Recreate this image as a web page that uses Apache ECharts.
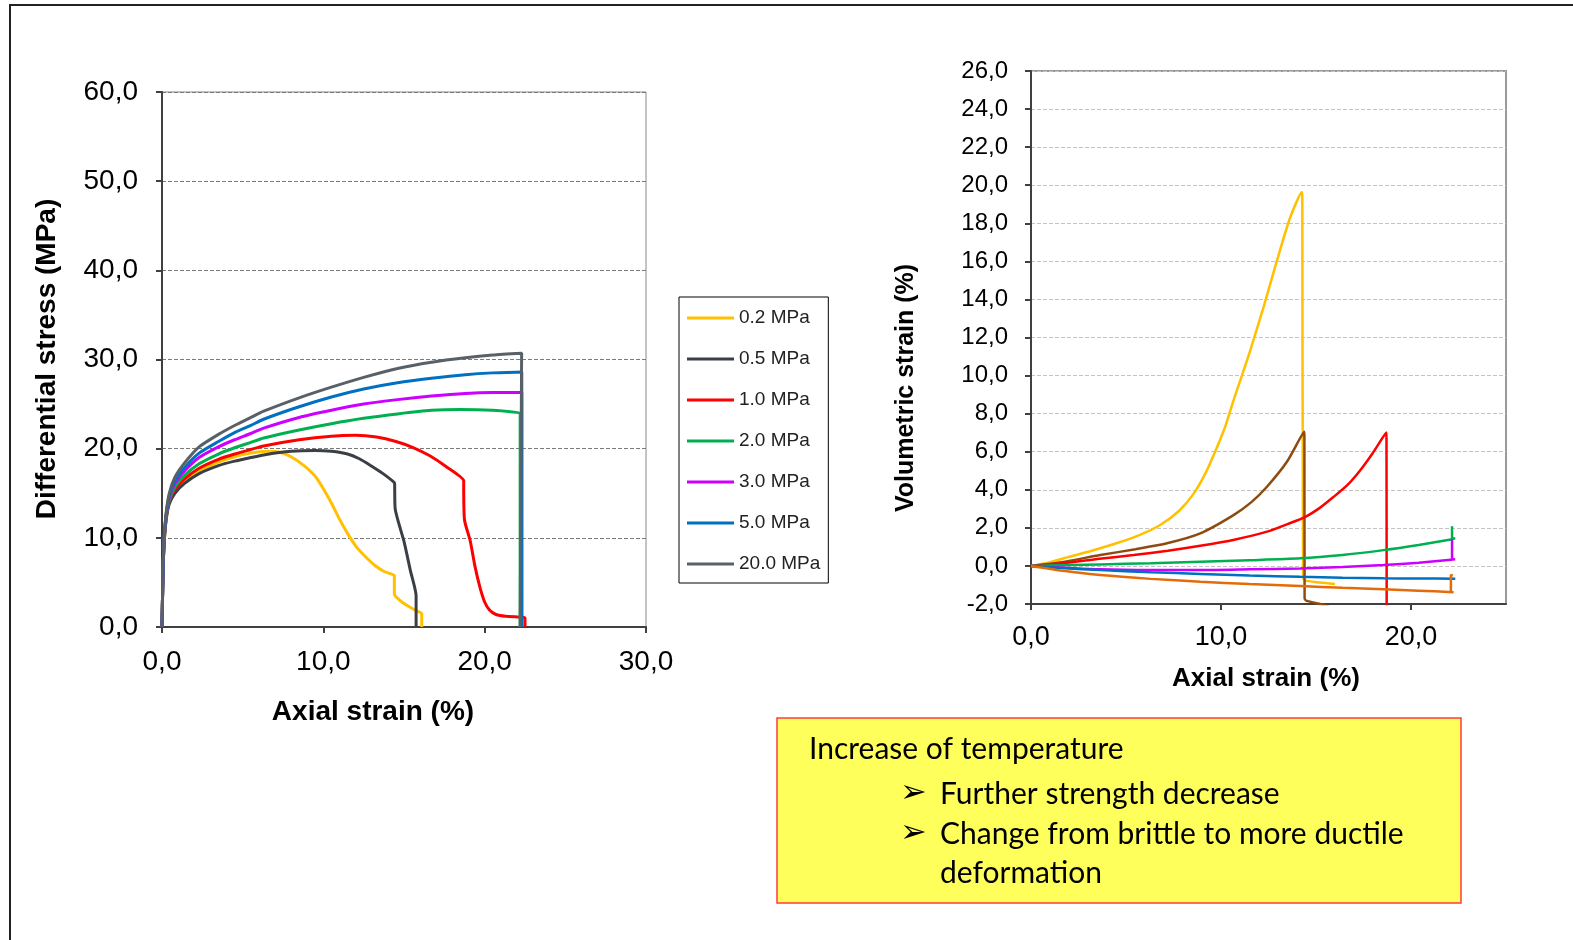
<!DOCTYPE html>
<html lang="en">
<head>
    <meta charset="UTF-8">
    <title>Axial strain</title>
    <script src="https://cdn.jsdelivr.net/npm/echarts@6/dist/echarts.min.js"></script>
</head>
<body>
<div id="main"></div>
</body>

<style type="text/css" media="screen">
    html, body {
        width: 100%;
        height: 100%;
        overflow: hidden;
        margin: 0;
        background: #fff;
    }

    #main {
        width: 1573px;
        height: 940px;
    }
</style>
<script>
    // confining pressure labels (left legend)
    var pressures = ['0.2 MPa', '0.5 MPa', '1.0 MPa', '2.0 MPa', '3.0 MPa', '5.0 MPa', '20.0 MPa'];

    // differential stress vs axial strain, [strain %, stress MPa]
    var stress02 = [[0, 0], [0.05, 5], [0.12, 9], [0.25, 12], [0.45, 14], [0.8, 15.3], [1.4, 16.4], [2.3, 17.5], [3.5, 18.5], [4.5, 19.1], [5.5, 19.5], [6.5, 19.7], [7.3, 19.6], [8, 19.1], [8.8, 18.1], [9.5, 16.9], [10, 15.5], [10.5, 13.9], [11, 12.1], [11.5, 10.5], [12, 9.1], [12.6, 7.9], [13.2, 6.9], [13.8, 6.2], [14.4, 5.8], [14.4, 5.6], [14.4, 3.7], [14.8, 2.9], [15.3, 2.3], [15.8, 1.8], [16.1, 1.5], [16.1, 1.3], [16.1, 0]];
    var stress05 = [[0, 0], [0.05, 5], [0.12, 9], [0.25, 11.9], [0.45, 13.8], [0.8, 15.0], [1.4, 16.1], [2.3, 17.2], [3.5, 18.1], [4.5, 18.6], [5.5, 19.0], [6.3, 19.3], [8, 19.7], [9.5, 19.8], [10.5, 19.7], [11.5, 19.4], [12.2, 18.9], [12.9, 18.15], [13.7, 17.2], [14.4, 16.2], [14.42, 16.0], [14.45, 13.3], [15.0, 9.6], [15.4, 6.3], [15.75, 3.5], [15.75, 3.3], [15.75, 0]];
    var stress1 = [[0, 0], [0.05, 5], [0.12, 9], [0.25, 12.1], [0.45, 14.1], [0.8, 15.4], [1.4, 16.6], [2.3, 17.8], [3.5, 18.8], [4.5, 19.4], [5.5, 19.9], [6.3, 20.3], [8.5, 21.0], [10.5, 21.4], [12, 21.5], [13.3, 21.3], [14.5, 20.8], [15.6, 20.1], [16.6, 19.2], [17.6, 18.0], [18.7, 16.4], [18.7, 16.2], [18.75, 12.0], [19.1, 9.7], [19.4, 6.8], [19.7, 4.5], [20.0, 2.8], [20.3, 1.9], [20.7, 1.4], [21.3, 1.2], [22.4, 1.1], [22.5, 1.0], [22.5, 0]];
    var stress2 = [[0, 0], [0.05, 5], [0.12, 9.1], [0.25, 12.2], [0.45, 14.2], [0.8, 15.7], [1.4, 17.0], [2.3, 18.3], [3.5, 19.4], [4.5, 20.1], [5.5, 20.7], [6.3, 21.2], [8.5, 22.1], [10.5, 22.8], [12.5, 23.4], [14.6, 23.9], [16.7, 24.3], [18.5, 24.4], [20.5, 24.3], [22.2, 24.0], [22.2, 23.7], [22.2, 0]];
    var stress3 = [[0, 0], [0.05, 5], [0.12, 9.3], [0.25, 12.4], [0.45, 14.5], [0.8, 16.1], [1.4, 17.5], [2.3, 19.0], [3.5, 20.2], [4.5, 21.0], [5.5, 21.7], [6.3, 22.3], [8.5, 23.5], [10.5, 24.3], [12.5, 25.0], [14.6, 25.5], [16.7, 25.9], [18.8, 26.2], [20.5, 26.3], [22.3, 26.3], [22.3, 26.0], [22.3, 0]];
    var stress5 = [[0, 0], [0.05, 5], [0.12, 9.4], [0.25, 12.5], [0.45, 14.7], [0.8, 16.4], [1.4, 17.9], [2.3, 19.5], [3.5, 20.8], [4.5, 21.8], [5.5, 22.6], [6.3, 23.3], [8.5, 24.7], [10.5, 25.8], [12.5, 26.7], [14.6, 27.4], [16.7, 27.9], [18.8, 28.3], [20.5, 28.5], [22.3, 28.6], [22.3, 28.3], [22.3, 0]];
    var stress20 = [[0, 0], [0.05, 5], [0.12, 9.6], [0.25, 12.7], [0.45, 15.0], [0.8, 16.8], [1.4, 18.4], [2.3, 20.2], [3.5, 21.6], [4.5, 22.6], [5.5, 23.5], [6.3, 24.2], [8.5, 25.7], [10.5, 26.9], [12.5, 28.0], [14.6, 29.0], [16.7, 29.7], [18.8, 30.2], [20.5, 30.5], [22.3, 30.7], [22.29, 30.4], [22.2, 0]];

    // volumetric strain vs axial strain, [strain %, volumetric %]
    var vol02 = [[0, 0], [1, 0.2], [1.9, 0.45], [3.2, 0.8], [4.5, 1.19], [5.7, 1.62], [6.8, 2.15], [7.8, 2.9], [8.56, 3.8], [9.2, 4.9], [9.8, 6.26], [10.25, 7.4], [10.66, 8.7], [11.1, 10.0], [11.54, 11.33], [12.24, 13.6], [12.95, 16.06], [13.65, 18.33], [14.26, 19.64], [14.28, 19.3], [14.32, -0.6], [14.4, -0.76], [15.2, -0.87], [16.0, -0.95]];
    var vol05 = [[0, 0], [1.5, 0.18], [3.65, 0.57], [5.5, 0.88], [7.16, 1.19], [8.91, 1.71], [10.66, 2.67], [11.6, 3.35], [12.42, 4.16], [13.47, 5.47], [14.38, 7.05], [14.39, 6.8], [14.4, -1.7], [14.48, -1.82], [15.4, -2.05], [15.8, -2.2]];
    var vol1 = [[0, 0], [1.89, 0.17], [3.6, 0.38], [5.4, 0.57], [7.2, 0.8], [8.91, 1.06], [10.7, 1.38], [12.42, 1.8], [13.5, 2.2], [14.44, 2.58], [15.2, 3.05], [15.93, 3.63], [16.7, 4.3], [17.33, 5.03], [18.0, 5.95], [18.7, 7.01], [18.71, 6.7], [18.72, -2.5]];
    var vol2 = [[0, 0], [3.65, 0.08], [6.3, 0.14], [8.91, 0.22], [11.5, 0.3], [14.17, 0.4], [16.4, 0.58], [18.56, 0.83], [20.4, 1.1], [22.1, 1.39], [22.16, 1.4], [22.16, 2.09], [22.16, 1.42], [22.33, 1.45]];
    var vol3 = [[0, 0], [3.65, -0.18], [6.3, -0.22], [8.91, -0.22], [11.5, -0.18], [14.17, -0.13], [16.4, -0.05], [18.56, 0.05], [20.4, 0.17], [22.1, 0.32], [22.16, 0.33], [22.16, 1.4], [22.16, 0.34], [22.33, 0.35]];
    var vol5 = [[0, 0], [1.8, -0.12], [3.65, -0.22], [6.3, -0.33], [8.91, -0.42], [11.5, -0.5], [14.17, -0.57], [16.4, -0.62], [18.56, -0.65], [20.4, -0.66], [22.33, -0.67]];
    var vol20 = [[0, 0], [1.8, -0.27], [3.65, -0.48], [6.3, -0.68], [8.91, -0.83], [11.5, -0.95], [14.17, -1.06], [16.4, -1.15], [18.56, -1.23], [20.4, -1.3], [22.24, -1.38], [22.1, -1.37], [22.1, -0.48], [22.2, -0.5]];

    var stressSets = [stress02, stress05, stress1, stress2, stress3, stress5, stress20];
    var volSets = [vol02, vol05, vol1, vol2, vol3, vol5, vol20];
    var stressColors = ['#FFC000', '#3A3F45', '#FF0000', '#00B050', '#CC00FF', '#0070C0', '#5A6068'];
    var volColors = ['#FFC000', '#8E4B10', '#FF0000', '#00B050', '#CC00FF', '#0070C0', '#E36C09'];

    function comma(v) {
        return v.toFixed(1).replace('.', ',');
    }

    var myChart = echarts.init(document.getElementById('main'));

    var series = [];
    stressSets.forEach(function (d, i) {
        series.push({
            name: pressures[i],
            type: 'line',
            xAxisIndex: 0,
            yAxisIndex: 0,
            data: d,
            symbol: 'none',
            smooth: 0.2,
            lineStyle: {width: 3, color: stressColors[i]},
            itemStyle: {color: stressColors[i]}
        });
    });
    volSets.forEach(function (d, i) {
        series.push({
            name: 'vol ' + pressures[i],
            type: 'line',
            xAxisIndex: 1,
            yAxisIndex: 1,
            data: d,
            symbol: 'none',
            smooth: 0.25,
            lineStyle: {width: 2.5, color: volColors[i]},
            itemStyle: {color: volColors[i]}
        });
    });

    var axisLineStyle = {show: true, onZero: false, lineStyle: {color: '#404040', width: 2}};
    var tickStyle = {show: true, length: 6, lineStyle: {color: '#404040', width: 2}};

    option = {
        animation: false,
        textStyle: {fontFamily: 'Liberation Sans, Arial, sans-serif'},
        grid: [{
            left: 162, top: 92, width: 484, height: 535,
            show: true, borderColor: '#8a8a8a', borderWidth: 1,
            outerBoundsMode: 'none'
        }, {
            left: 1031, top: 71, width: 475, height: 533,
            show: true, borderColor: '#9a9a9a', borderWidth: 2,
            outerBoundsMode: 'none'
        }],
        legend: {
            data: pressures,
            orient: 'vertical',
            left: 679,
            top: 297,
            padding: [11, 8, 9, 8],
            itemGap: 21,
            itemWidth: 47,
            itemHeight: 3,
            icon: 'rect',
            borderColor: '#000',
            borderWidth: 1,
            textStyle: {fontSize: 19, color: '#222', lineHeight: 20, fontFamily: 'Liberation Sans'}
        },
        xAxis: [{
            type: 'value', gridIndex: 0, min: 0, max: 30, interval: 10,
            axisLine: axisLineStyle, axisTick: tickStyle,
            axisLabel: {formatter: comma, fontSize: 28, color: '#000', margin: 21},
            splitLine: {show: false}
        }, {
            type: 'value', gridIndex: 1, min: 0, max: 25, interval: 10,
            axisLine: axisLineStyle, axisTick: tickStyle,
            axisLabel: {formatter: comma, fontSize: 27, color: '#000', margin: 20, showMaxLabel: false},
            splitLine: {show: false}
        }],
        yAxis: [{
            type: 'value', gridIndex: 0, min: 0, max: 60, interval: 10,
            axisLine: axisLineStyle, axisTick: tickStyle,
            axisLabel: {formatter: comma, fontSize: 28, color: '#000', margin: 24},
            splitLine: {show: true, lineStyle: {type: 'dashed', color: '#7a7a7a', width: 1}}
        }, {
            type: 'value', gridIndex: 1, min: -2, max: 26, interval: 2,
            axisLine: axisLineStyle, axisTick: tickStyle,
            axisLabel: {formatter: comma, fontSize: 24, color: '#000', margin: 23},
            splitLine: {show: true, lineStyle: {type: 'dashed', color: '#c4c4c4', width: 1}}
        }],
        series: series,
        graphic: [
            // page frame
            {type: 'polyline', shape: {points: [[1573, 5], [10, 5], [10, 940]]}, style: {stroke: '#222', lineWidth: 2, fill: null}},
            // axis titles
            {type: 'text', x: 47, y: 359, rotation: Math.PI / 2, style: {text: 'Differential stress (MPa)', font: 'bold 28px Liberation Sans', fill: '#000', align: 'center', verticalAlign: 'middle'}},
            {type: 'text', x: 373, y: 712, style: {text: 'Axial strain (%)', font: 'bold 28px Liberation Sans', fill: '#000', align: 'center', verticalAlign: 'middle'}},
            {type: 'text', x: 906, y: 388, rotation: Math.PI / 2, style: {text: 'Volumetric strain (%)', font: 'bold 25px Liberation Sans', fill: '#000', align: 'center', verticalAlign: 'middle'}},
            {type: 'text', x: 1266, y: 679, style: {text: 'Axial strain (%)', font: 'bold 26px Liberation Sans', fill: '#000', align: 'center', verticalAlign: 'middle'}},
            // note box
            {type: 'rect', shape: {x: 777, y: 718, width: 684, height: 185}, style: {fill: '#FFFF5C', stroke: '#FF3B3B', lineWidth: 1.5}},
            {type: 'text', x: 809, y: 749, style: {text: 'Increase of temperature', font: '30px Lato', fill: '#000', align: 'left', verticalAlign: 'middle'}},
            {type: 'text', x: 900, y: 794, style: {text: '\u27A2', font: '32px DejaVu Sans', fill: '#000', align: 'left', verticalAlign: 'middle'}},
            {type: 'text', x: 940, y: 794, style: {text: 'Further strength decrease', font: '30px Lato', fill: '#000', align: 'left', verticalAlign: 'middle'}},
            {type: 'text', x: 900, y: 834, style: {text: '\u27A2', font: '32px DejaVu Sans', fill: '#000', align: 'left', verticalAlign: 'middle'}},
            {type: 'text', x: 940, y: 834, style: {text: 'Change from brittle to more ductile', font: '30px Lato', fill: '#000', align: 'left', verticalAlign: 'middle'}},
            {type: 'text', x: 940, y: 873, style: {text: 'deformation', font: '30px Lato', fill: '#000', align: 'left', verticalAlign: 'middle'}}
        ]
    };

    myChart.setOption(option);
</script>
</html>
